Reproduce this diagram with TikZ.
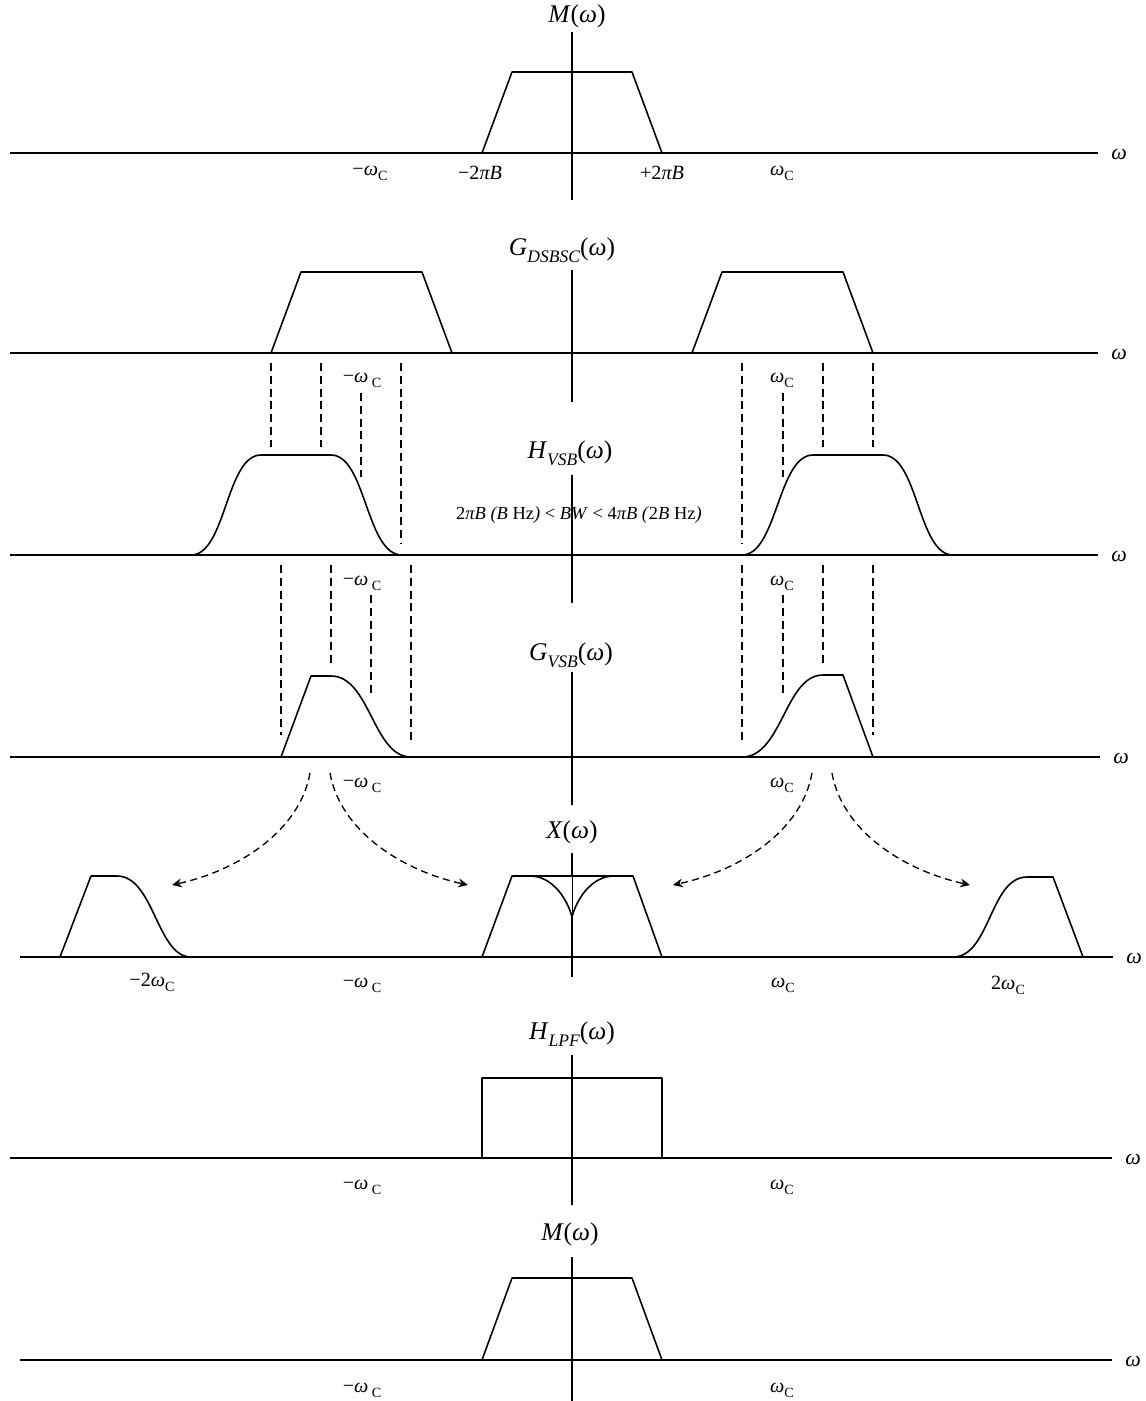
\documentclass[tikz,border=0pt]{standalone}
\usepackage{fontspec}
\setmainfont{Liberation Serif}
\usetikzlibrary{calc,positioning,arrows.meta}

\newcommand{\wc}{\textit{ω}\raisebox{-0.55ex}{\footnotesize C}}
\newcommand{\wcs}{\textit{ω}\,\raisebox{-0.55ex}{\footnotesize C}}
\newcommand{\lsub}[1]{\raisebox{-0.6ex}{\fontsize{10}{11}\selectfont\itshape #1}}

\begin{document}
\begin{tikzpicture}[x=0.02cm,y=-0.02cm,
  waxis/.style={line width=0.9pt},
  thinaxis/.style={line width=0.35pt},
  spec/.style={line width=0.9pt, line join=round},
  guide/.style={line width=0.75pt, dash pattern=on 4.5pt off 2.8pt},
  carry/.style={line width=0.75pt, dash pattern=on 4pt off 2.6pt, -{Stealth[length=5.5pt,width=5pt]}},
  fname/.style={font=\fontsize{14.5}{16}\selectfont, inner sep=0pt},
  wlabel/.style={font=\fontsize{12.5}{14}\selectfont, inner sep=0pt},
  tlabel/.style={font=\fontsize{11.5}{13}\selectfont, inner sep=0pt},
  bwlabel/.style={font=\fontsize{10.5}{12}\selectfont, inner sep=0pt}]

\useasboundingbox (0,0) rectangle (1146,1401);

% ----- axes -----
\foreach \y/\xa/\xb/\n in {153/10/1098/a, 353/10/1098/b, 555/10/1098/c, 757/10/1100/d,
                           957/20/1113/e, 1158/10/1112/f, 1360/20/1112/g} {
  \draw[waxis] (\xa,\y) -- (\xb,\y);
  \node[wlabel, anchor=west] (w\n) at (\xb+13,\y+1) {\textit{ω}};
}
\foreach \ya/\yb in {32/200, 270/402, 475/603, 672/805, 1055/1205, 1257/1401}
  \draw[waxis] (572,\ya) -- (572,\yb);
% X row: thin piece inside the band
\draw[waxis] (572,853) -- (572,876);
\draw[thinaxis] (572,876) -- (572,917);
\draw[waxis] (572,917) -- (572,977);

% ----- spectrum names -----
\node[fname] (Mtop) at (577,16) {\textit{M}(\textit{ω})};
\node[fname] (Gdsb) at (562,250) {\textit{G}\lsub{DSBSC}(\textit{ω})};
\node[fname] (Hvsb) at (570,453) {\textit{H}\lsub{VSB}(\textit{ω})};
\node[fname] (Gvsb) at (571,655) {\textit{G}\lsub{VSB}(\textit{ω})};
\node[fname] (Xw) at (572,832) {\textit{X}(\textit{ω})};
\node[fname] (Hlpf) at (572,1034) {\textit{H}\lsub{LPF}(\textit{ω})};
\node[fname] (Mbot) at (570,1234) {\textit{M}(\textit{ω})};
\node[bwlabel] (bw) at (579,515) {2\textit{πB (B} Hz\textit{)} < \textit{BW} < 4\textit{πB (}2\textit{B} Hz\textit{)}};

% ----- frequency marks -----
\node[tlabel] (m1) at (370,173) {−\wc};
\node[tlabel] (m2) at (480,173) {−2\textit{πB}};
\node[tlabel] (m3) at (662,173) {+2\textit{πB}};
\node[tlabel] (m4) at (782,173) {\wc};
\foreach \y/\n in {380/b, 583/c, 785/d, 1187/f, 1390/g} {
  \node[tlabel] (nl\n) at (362,\y) {−\wcs};
  \node[tlabel] (pl\n) at (782,\y) {\wc};
}
\node[tlabel] (m5) at (152,982) {−2\wc};
\node[tlabel] (m6) at (362,985) {−\wcs};
\node[tlabel] (m7) at (783,985) {\wc};
\node[tlabel] (m8) at (1008,985) {2\wc};

% ----- M -----
\draw[spec] (482,153) -- (512,72) -- (632,72) -- (662,153);

% ----- G_DSBSC -----
\draw[spec] (271,353) -- (301,272) -- (422,272) -- (452,353);
\draw[spec] (692,353) -- (722,272) -- (843,272) -- (873,353);

% ----- H_VSB -----
\draw[spec] (191,555) .. controls (226,555) and (226,455) .. (261,455) -- (331,455)
  .. controls (366,455) and (366,555) .. (402,555);
\draw[spec] (742,555) .. controls (777,555) and (778,455) .. (813,455) -- (883,455)
  .. controls (918,455) and (918,555) .. (953,555);

% ----- G_VSB -----
\draw[spec] (281,757) -- (311,676) -- (331,676) .. controls (370,676) and (373,757) .. (411,757);
\draw[spec] (742,757) .. controls (782,757) and (785,675) .. (823,675) -- (843,675) -- (873,757);

% ----- X -----
\draw[spec] (60,957) -- (91,876) -- (117,876) .. controls (154,876) and (157,957) .. (191,957);
\draw[spec] (482,957) -- (512,876) -- (633,876) -- (662,957);
\draw[spec] (530,876) .. controls (552,876) and (567,898) .. (572,917)
  .. controls (577,898) and (592,876) .. (614,876);
\draw[spec] (953,957) .. controls (990,957) and (990,877) .. (1027,877) -- (1053,877) -- (1083,957);

% ----- H_LPF -----
\draw[spec] (482,1158) -- (482,1078) -- (662,1078) -- (662,1158);

% ----- recovered M -----
\draw[spec] (482,1360) -- (512,1278) -- (632,1278) -- (662,1360);

% ----- dashed guides -----
\foreach \x/\ya/\yb in {271/363/447, 321/363/447, 361/393/477, 401/363/543,
                        742/363/543, 783/393/477, 823/363/447, 873/363/447,
                        281/565/735, 331/565/667, 371/595/697, 411/565/743,
                        742/565/743, 783/595/697, 823/565/667, 873/565/735}
  \draw[guide] (\x,\ya) -- (\x,\yb);

% ----- shifted copies -----
\coordinate (sL1) at (310,773); \coordinate (eL1) at (172,885);
\coordinate (sL2) at (330,773); \coordinate (eL2) at (468,885);
\coordinate (sR1) at (812,773); \coordinate (eR1) at (673,885);
\coordinate (sR2) at (832,773); \coordinate (eR2) at (970,885);
\draw[carry] (sL1) .. controls (300,830) and (240,870) .. (eL1);
\draw[carry] (sL2) .. controls (340,830) and (400,870) .. (eL2);
\draw[carry] (sR1) .. controls (802,830) and (742,870) .. (eR1);
\draw[carry] (sR2) .. controls (842,830) and (902,870) .. (eR2);

\end{tikzpicture}
\end{document}
